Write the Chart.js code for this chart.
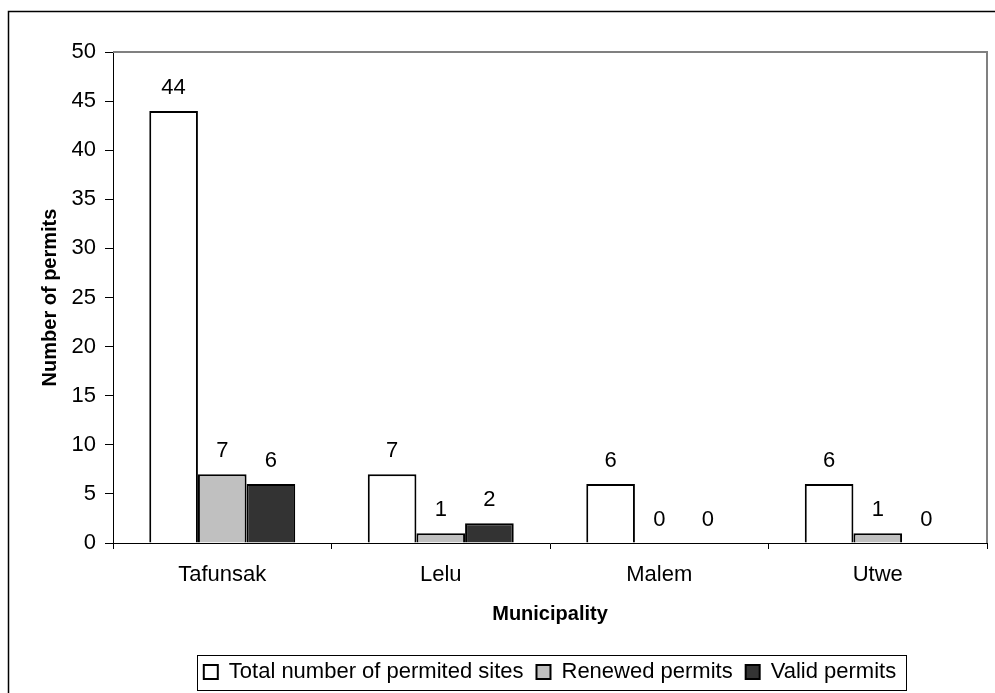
<!DOCTYPE html>
<html>
<head>
<meta charset="utf-8">
<script src="https://cdn.jsdelivr.net/npm/chart.js@4/dist/chart.umd.min.js"></script>
<style>
  body { margin: 0; background: #fff; }
  #grafico { width: 995px; height: 693px; position: relative; }
</style>
</head>
<body>
<div id="grafico"><canvas id="ChartPermits"></canvas></div>
<script>
// DADOS DO GRAFICO
const municipios = ["Tafunsak", "Lelu", "Malem", "Utwe"];
const totalSites = [44, 7, 6, 6];
const renovadas = [7, 1, 0, 1];
const validas = [6, 2, 0, 0];
const yTicks = [0, 5, 10, 15, 20, 25, 30, 35, 40, 45, 50];

const fonte = "'Liberation Sans', Arial, sans-serif";
Chart.defaults.font.family = fonte;
Chart.defaults.font.size = 22;
Chart.defaults.color = '#000';

// moldura externa, borda cinza da area e caixa da legenda
const molduraPlugin = {
  id: 'moldura',
  beforeDraw(chart) {
    const ctx = chart.ctx;
    ctx.save();
    ctx.fillStyle = '#fff';
    ctx.fillRect(0, 0, chart.width, chart.height);
    ctx.strokeStyle = '#000';
    ctx.lineWidth = 1.5;
    ctx.strokeRect(8.5, 11.5, chart.width, chart.height);
    ctx.restore();
  },
  afterDraw(chart) {
    const ctx = chart.ctx;
    const a = chart.chartArea;
    ctx.save();
    ctx.strokeStyle = '#808080';
    ctx.lineWidth = 2;
    ctx.beginPath();
    ctx.moveTo(a.left, a.top);
    ctx.lineTo(a.right, a.top);
    ctx.lineTo(a.right, a.bottom);
    ctx.stroke();

    const hb = chart.legend.legendHitBoxes;
    if (hb && hb.length) {
      const ultimo = hb[hb.length - 1];
      const x0 = hb[0].left - 7;
      const x1 = ultimo.left + ultimo.width + 10;
      const y0 = hb[0].top - 6;
      const y1 = hb[0].top + hb[0].height + 7;
      ctx.strokeStyle = '#000';
      ctx.lineWidth = 1;
      ctx.strokeRect(Math.round(x0) + 0.5, Math.round(y0) + 0.5, Math.round(x1 - x0), Math.round(y1 - y0));
    }
    ctx.restore();
  }
};

// rotulos com os valores em cima das barras
const rotulosPlugin = {
  id: 'rotulos',
  afterDatasetsDraw(chart) {
    const ctx = chart.ctx;
    ctx.save();
    ctx.font = "22px " + fonte;
    ctx.fillStyle = '#000';
    ctx.textAlign = 'center';
    ctx.textBaseline = 'middle';
    chart.data.datasets.forEach((ds, i) => {
      chart.getDatasetMeta(i).data.forEach((bar, j) => {
        ctx.fillText(ds.data[j], bar.x, bar.y - 23);
      });
    });
    ctx.restore();
  }
};

var dataPermits = {
  labels: municipios,
  datasets: [{
    label: 'Total number of permited sites',
    data: totalSites,
    backgroundColor: '#ffffff',
    borderColor: '#000000',
    borderWidth: 2
  }, {
    label: 'Renewed permits',
    data: renovadas,
    backgroundColor: '#c0c0c0',
    borderColor: '#000000',
    borderWidth: 2
  }, {
    label: 'Valid permits',
    data: validas,
    backgroundColor: '#333333',
    borderColor: '#000000',
    borderWidth: 2
  }]
};

var configPermits = {
  type: 'bar',
  data: dataPermits,
  options: {
    responsive: true,
    maintainAspectRatio: false,
    animation: false,
    devicePixelRatio: 1,
    categoryPercentage: 0.668,
    barPercentage: 1.0,
    layout: {
      padding: { top: 52, right: 8, left: 0, bottom: 0 }
    },
    scales: {
      x: {
        afterFit: (s) => { s.height = 105; },
        grid: { drawOnChartArea: false, drawTicks: true, tickLength: 6, color: '#000', lineWidth: 1 },
        border: { color: '#000', width: 1 },
        ticks: { padding: 13, color: '#000' },
        title: {
          display: true,
          text: 'Municipality',
          font: { size: 20, weight: 'bold' },
          color: '#000',
          padding: { top: 10, bottom: 22 }
        }
      },
      y: {
        min: 0,
        max: 50,
        afterFit: (s) => { s.width = 113; },
        afterBuildTicks: (s) => { s.ticks = yTicks.map(v => ({ value: v })); },
        grid: { drawOnChartArea: false, drawTicks: true, tickLength: 8, color: '#000', lineWidth: 1 },
        border: { color: '#000', width: 1 },
        ticks: { padding: 9, color: '#000' },
        title: {
          display: true,
          text: 'Number of permits',
          font: { size: 20, weight: 'bold' },
          color: '#000',
          padding: { top: 38, bottom: 0 }
        }
      }
    },
    plugins: {
      legend: {
        position: 'bottom',
        fullSize: false,
        labels: {
          boxWidth: 14,
          boxHeight: 14,
          padding: 13,
          color: '#000',
          font: { size: 22 }
        }
      },
      tooltip: { enabled: false }
    }
  },
  plugins: [molduraPlugin, rotulosPlugin]
};

var ChartPermits = new Chart(
  document.getElementById('ChartPermits'),
  configPermits
);
</script>
</body>
</html>
